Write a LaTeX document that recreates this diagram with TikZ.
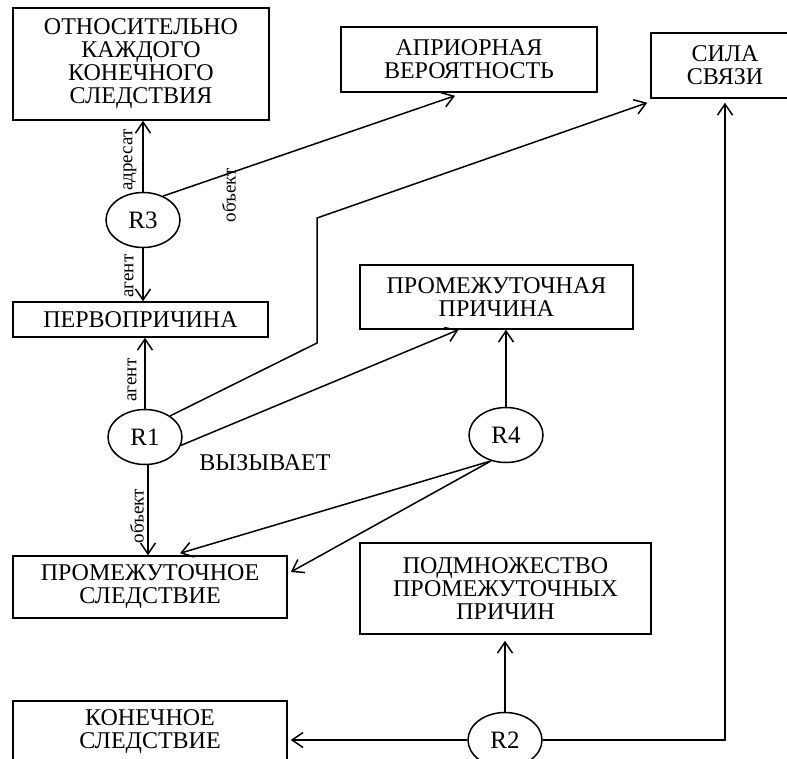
\documentclass[tikz,border=0pt]{standalone}
\usepackage{fontspec}
\setmainfont{Liberation Serif}
\usetikzlibrary{arrows.meta,shapes,positioning}

\begin{document}
\begin{tikzpicture}[x=1pt,y=-1pt,line width=1.5pt,
        box/.style={draw,align=center,inner sep=0pt,font=\fontsize{24}{23}\selectfont},
        rel/.style={draw,ellipse,minimum width=74pt,minimum height=55pt,inner sep=0pt,font=\fontsize{25}{25}\selectfont},
        lbl/.style={rotate=90,inner sep=0pt,font=\fontsize{19}{19}\selectfont},
        arr/.style={-{Straight Barb[length=11pt,width=15pt]}}]
            \useasboundingbox (0,0) rectangle (787,758);
            \node[box,minimum width=256pt,minimum height=112pt] (otn) at (141,64) {ОТНОСИТЕЛЬНО\\КАЖДОГО\\КОНЕЧНОГО\\СЛЕДСТВИЯ};
            \node[box,minimum width=256pt,minimum height=65pt] (apr) at (469,59.5) {АПРИОРНАЯ\\ВЕРОЯТНОСТЬ};
            \node[box,minimum width=148pt,minimum height=65pt] (sila) at (725,65.5) {СИЛА\\СВЯЗИ};
            \node[box,minimum width=255pt,minimum height=35pt] (perv) at (140.5,319.5) {ПЕРВОПРИЧИНА};
            \node[box,minimum width=273pt,minimum height=64pt] (ppr) at (496.5,297) {ПРОМЕЖУТОЧНАЯ\\ПРИЧИНА};
            \node[box,minimum width=274pt,minimum height=62pt] (psl) at (150,587) {ПРОМЕЖУТОЧНОЕ\\СЛЕДСТВИЕ};
            \node[box,minimum width=291pt,minimum height=91pt] (pod) at (505.5,588.5) {ПОДМНОЖЕСТВО\\ПРОМЕЖУТОЧНЫХ\\ПРИЧИН};
            \node[box,minimum width=274pt,minimum height=61pt] (kon) at (150,731.5) {КОНЕЧНОЕ\\СЛЕДСТВИЕ};
            \node[rel] (R3) at (143,220) {R3};
            \node[rel] (R1) at (145,437) {R1};
            \node[rel] (R4) at (506,435) {R4};
            \node[rel] (R2) at (505,740) {R2};
            \node[font=\fontsize{24}{24}\selectfont] (vyz) at (265,463) {ВЫЗЫВАЕТ};
            \draw[arr] (R3.north) -- (R3.north |- otn.south);
            \draw[arr] (R3.south) -- (R3.south |- perv.north);
            \draw[arr] (R3.50) -- ([xshift=-14pt,yshift=-3pt]apr.south);
            \draw[arr] (R1.40) -- (317,343) -- (317,218) -- ([xshift=-3pt,yshift=-4pt]sila.south west);
            \draw[arr] (R1.north) -- (R1.north |- perv.south);
            \draw[arr] (R1.-13) -- ([xshift=-38pt]ppr.south);
            \draw[arr] ([xshift=3pt]R1.south) -- ([xshift=3pt]R1.south |- psl.north);
            \draw[arr] (R4.north) -- (R4.north |- ppr.south);
            \draw[arr] (R4.-120) -- ([xshift=30pt,yshift=2pt]psl.north);
            \draw[arr] (R4.-120) -- ([xshift=3pt,yshift=15pt]psl.east);
            \draw[arr] (R2.north) -- ([yshift=-6pt]R2.north |- pod.south);
            \draw[arr] (R2.west) -- ([xshift=3pt]R2.west -| kon.east);
            \draw[arr] (R2.east) -| ([yshift=-4pt]sila.south);
            \node[lbl] (adr) at (130,160) {адресат};
            \node[lbl] (ag3) at (129,276) {агент};
            \node[lbl] (ag1) at (132,380) {агент};
            \node[lbl] (ob1) at (137,516) {объект};
            \node[lbl] (ob3) at (229,195) {объект};
        \end{tikzpicture}
\end{document}
